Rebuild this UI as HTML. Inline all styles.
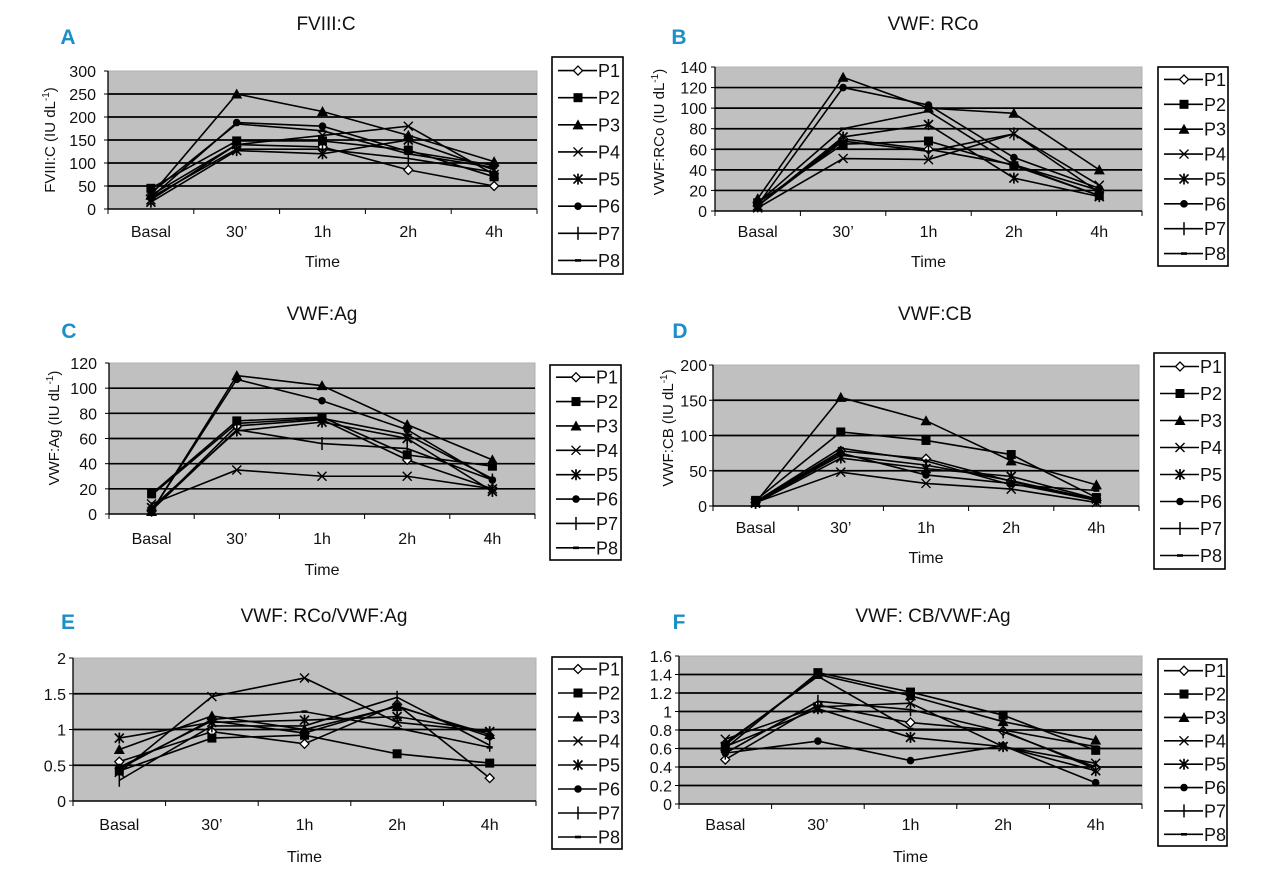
<!DOCTYPE html>
<html><head><meta charset="utf-8"><style>
body{margin:0;background:#fff}
svg{display:block}
text{font-family:"Liberation Sans Narrow","Liberation Sans",sans-serif;fill:#111}
</style></head><body>
<svg id="fig" width="1280" height="873" viewBox="0 0 1280 873"></svg>
<script>
const categories = ["Basal","30\u2019","1h","2h","4h"];
const patients = ["P1","P2","P3","P4","P5","P6","P7","P8"];
const markerTypes = ["diamond","square","triangle","x","star","circle","plus","dash"];

const fviiiValues = [
 [30,140,135,85,50],[45,148,148,128,70],[30,250,212,160,103],[20,140,160,180,75],
 [15,127,120,150,85],[25,188,180,125,95],[25,130,130,110,80],[35,185,170,120,90]];
const rcoValues = [
 [5,70,60,45,20],[8,65,68,44,15],[12,130,100,95,40],[3,51,50,75,25],
 [5,72,84,32,14],[6,120,103,52,22],[5,68,58,75,18],[8,80,97,45,15]];
const agValues = [
 [3,70,75,43,20],[16,74,77,47,38],[2,110,102,71,43],[8,35,30,30,20],
 [5,66,73,60,18],[2,107,90,67,27],[3,67,56,52,27],[15,72,76,63,28]];
const cbValues = [
 [5,78,67,35,8],[8,105,93,73,12],[5,154,121,64,30],[5,48,32,24,5],
 [4,68,53,42,10],[5,75,44,32,8],[5,72,58,36,9],[6,82,64,30,22]];
const rcoAgValues = [
 [0.55,0.97,0.8,1.35,0.32],[0.42,0.88,0.92,0.66,0.53],[0.72,1.19,1.0,1.32,0.93],[0.4,1.46,1.72,1.1,0.97],
 [0.88,1.1,1.13,1.18,0.97],[0.47,1.12,0.95,1.33,0.9],[0.29,1.05,1.05,1.45,0.78],[0.45,1.14,1.25,1.02,0.75]];
const cbAgValues = [
 [0.48,1.07,0.88,0.79,0.38],[0.6,1.42,1.21,0.96,0.58],[0.64,1.40,1.17,0.89,0.69],[0.70,1.05,1.09,0.62,0.44],
 [0.62,1.03,0.72,0.62,0.36],[0.55,0.68,0.47,0.63,0.23],[0.55,1.11,1.02,0.78,0.40],[0.66,1.38,0.81,0.80,0.62]];

const fviiiTicks = [0,50,100,150,200,250,300];
const rcoTicks = [0,20,40,60,80,100,120,140];
const agTicks = [0,20,40,60,80,100,120];
const cbTicks = [0,50,100,150,200];
const rcoAgTicks = [0,0.5,1,1.5,2];
const cbAgTicks = [0,0.2,0.4,0.6,0.8,1,1.2,1.4,1.6];

const NS = "http://www.w3.org/2000/svg";
const svg = document.getElementById("fig");
function el(tag, attrs, parent, txt){
  const e = document.createElementNS(NS, tag);
  for (const k in attrs) e.setAttribute(k, attrs[k]);
  if (txt !== undefined) e.textContent = txt;
  (parent || svg).appendChild(e);
  return e;
}
function marker(g, type, x, y){
  const s = 4.5;
  let m;
  if (type==="diamond") m = el("polygon",{points:`${x},${y-s} ${x+s},${y} ${x},${y+s} ${x-s},${y}`,fill:"#fff",stroke:"#000","stroke-width":1.3},g);
  else if (type==="square") m = el("rect",{x:x-s,y:y-s,width:2*s,height:2*s,fill:"#000"},g);
  else if (type==="triangle") m = el("polygon",{points:`${x},${y-s-1} ${x+s+1},${y+s} ${x-s-1},${y+s}`,fill:"#000"},g);
  else if (type==="x") m = el("path",{d:`M${x-s},${y-s}L${x+s},${y+s}M${x+s},${y-s}L${x-s},${y+s}`,stroke:"#000","stroke-width":1.4},g);
  else if (type==="star") m = el("path",{d:`M${x-s},${y-s}L${x+s},${y+s}M${x+s},${y-s}L${x-s},${y+s}M${x},${y-s-1}L${x},${y+s+1}`,stroke:"#000","stroke-width":1.7},g);
  else if (type==="circle") m = el("circle",{cx:x,cy:y,r:3.8,fill:"#000"},g);
  else if (type==="plus") m = el("path",{d:`M${x},${y-s-2}L${x},${y+s+2}`,stroke:"#000","stroke-width":1.5},g);
  else m = el("rect",{x:x-3,y:y-1.3,width:6,height:2.6,fill:"#000"},g);
  
  
}

function panel(p){
  const g = el("g",{});
  
  
  const lt = el("text",{x:p.letter[0],y:p.letter[1],"font-size":21,"font-weight":"bold","text-anchor":"middle",style:"fill:#1a8fc9"},g,p.id);
  
  
  const tt = el("text",{x:p.title[0],y:p.title[1],"font-size":19,"text-anchor":"middle"},g,p.titleText);
  
  
  const {l,r,t,b} = p.plot;
  const ticks = p.ticks, maxV = ticks[ticks.length-1];
  const ys = v => b - (v / maxV) * (b - t);
  const bw = (r - l) / categories.length;
  const xs = i => l + bw * (i + 0.5);
  const bg = el("rect",{x:l,y:t,width:r-l,height:b-t,fill:"#c0c0c0",stroke:"#b0b0b0","stroke-width":1},g);
  
  
  ticks.forEach((v,i)=>{
    const y = ys(v);
    if (i>0 && i<ticks.length-1){
      const gl = el("line",{x1:l,x2:r,y1:y,y2:y,stroke:"#000","stroke-width":1.7},g);
      
      
    }
    el("line",{x1:l-4,x2:l,y1:y,y2:y,stroke:"#000","stroke-width":1},g);
    const tl = el("text",{x:p.tickX,y:y+6,"font-size":16,"text-anchor":"end"},g,String(v));
    
    
  });
  el("line",{x1:l,x2:l,y1:t,y2:b,stroke:"#000","stroke-width":1.3},g);
  el("line",{x1:l,x2:r,y1:b,y2:b,stroke:"#000","stroke-width":1.6},g);
  for (let i=0;i<=categories.length;i++){
    el("line",{x1:l+bw*i,x2:l+bw*i,y1:b,y2:b+5,stroke:"#000","stroke-width":1},g);
  }
  categories.forEach((c,i)=>{
    const xl = el("text",{x:xs(i),y:p.xLabelY,"font-size":16,"text-anchor":"middle"},g,c);
    
    
  });
  const xt = el("text",{x:(l+r)/2,y:p.timeY,"font-size":16,"text-anchor":"middle"},g,"Time");
  
  
  if (p.yTitle){
    const yt = el("text",{x:0,y:0,"font-size":15,"text-anchor":"middle",transform:`translate(${p.yTitleX},${p.yTitleY}) rotate(-90)`},g);
    
    
    el("tspan",{},yt,p.yTitle+" (IU dL");
    el("tspan",{dy:-6,"font-size":10},yt,"-1");
    el("tspan",{dy:6},yt,")");
  }
  p.data.forEach((row,si)=>{
    const sg = el("g",{},g);
    
    
    const pts = row.map((v,i)=>`${xs(i)},${ys(v)}`).join(" ");
    const pl = el("polyline",{points:pts,fill:"none",stroke:"#000","stroke-width":1.6},sg);
    
    
    row.forEach((v,i)=>marker(sg, markerTypes[si], xs(i), ys(v)));
  });
  const L = p.legend;
  const lg = el("g",{},g);
  
  
  el("rect",{x:L.l,y:L.t,width:L.r-L.l,height:L.b-L.t,fill:"#fff",stroke:"#000","stroke-width":1.6},lg);
  const rh = (L.b-L.t)/patients.length;
  patients.forEach((n,i)=>{
    const y = L.t + rh*(i+0.5);
    const eg = el("g",{},lg);
    
    
    el("line",{x1:L.l+6,x2:L.l+45,y1:y,y2:y,stroke:"#000","stroke-width":1.6},eg);
    marker(eg, markerTypes[i], L.l+26, y);
    el("text",{x:L.l+46,y:y+6.5,"font-size":18},eg,n);
  });
}

panel({id:"A",titleText:"FVIII:C",letter:[68,44],title:[326,30],plot:{l:108,r:537,t:71,b:209},ticks:fviiiTicks,data:fviiiValues,tickX:96,xLabelY:237,timeY:267,yTitle:"FVIII:C",yTitleX:55,yTitleY:140,legend:{l:552,r:623,t:57,b:274}});
panel({id:"B",titleText:"VWF: RCo",letter:[679,44],title:[933,30],plot:{l:715,r:1142,t:67,b:211},ticks:rcoTicks,data:rcoValues,tickX:707,xLabelY:237,timeY:267,yTitle:"VWF:RCo",yTitleX:664,yTitleY:132,legend:{l:1158,r:1228,t:67,b:266}});
panel({id:"C",titleText:"VWF:Ag",letter:[69,338],title:[322,320],plot:{l:109,r:535,t:363,b:514},ticks:agTicks,data:agValues,tickX:97,xLabelY:544,timeY:575,yTitle:"VWF:Ag",yTitleX:59,yTitleY:428,legend:{l:550,r:621,t:365,b:560}});
panel({id:"D",titleText:"VWF:CB",letter:[680,338],title:[935,320],plot:{l:713,r:1139,t:365,b:506},ticks:cbTicks,data:cbValues,tickX:707,xLabelY:533,timeY:563,yTitle:"VWF:CB",yTitleX:673,yTitleY:428,legend:{l:1154,r:1225,t:353,b:569}});
panel({id:"E",titleText:"VWF: RCo/VWF:Ag",letter:[68,629],title:[324,622],plot:{l:73,r:536,t:658,b:801},ticks:rcoAgTicks,data:rcoAgValues,tickX:66,xLabelY:830,timeY:862,yTitle:null,legend:{l:552,r:622,t:657,b:849}});
panel({id:"F",titleText:"VWF: CB/VWF:Ag",letter:[679,629],title:[933,622],plot:{l:679,r:1142,t:656,b:804},ticks:cbAgTicks,data:cbAgValues,tickX:672,xLabelY:830,timeY:862,yTitle:null,legend:{l:1158,r:1227,t:659,b:846}});
</script>
</body></html>
